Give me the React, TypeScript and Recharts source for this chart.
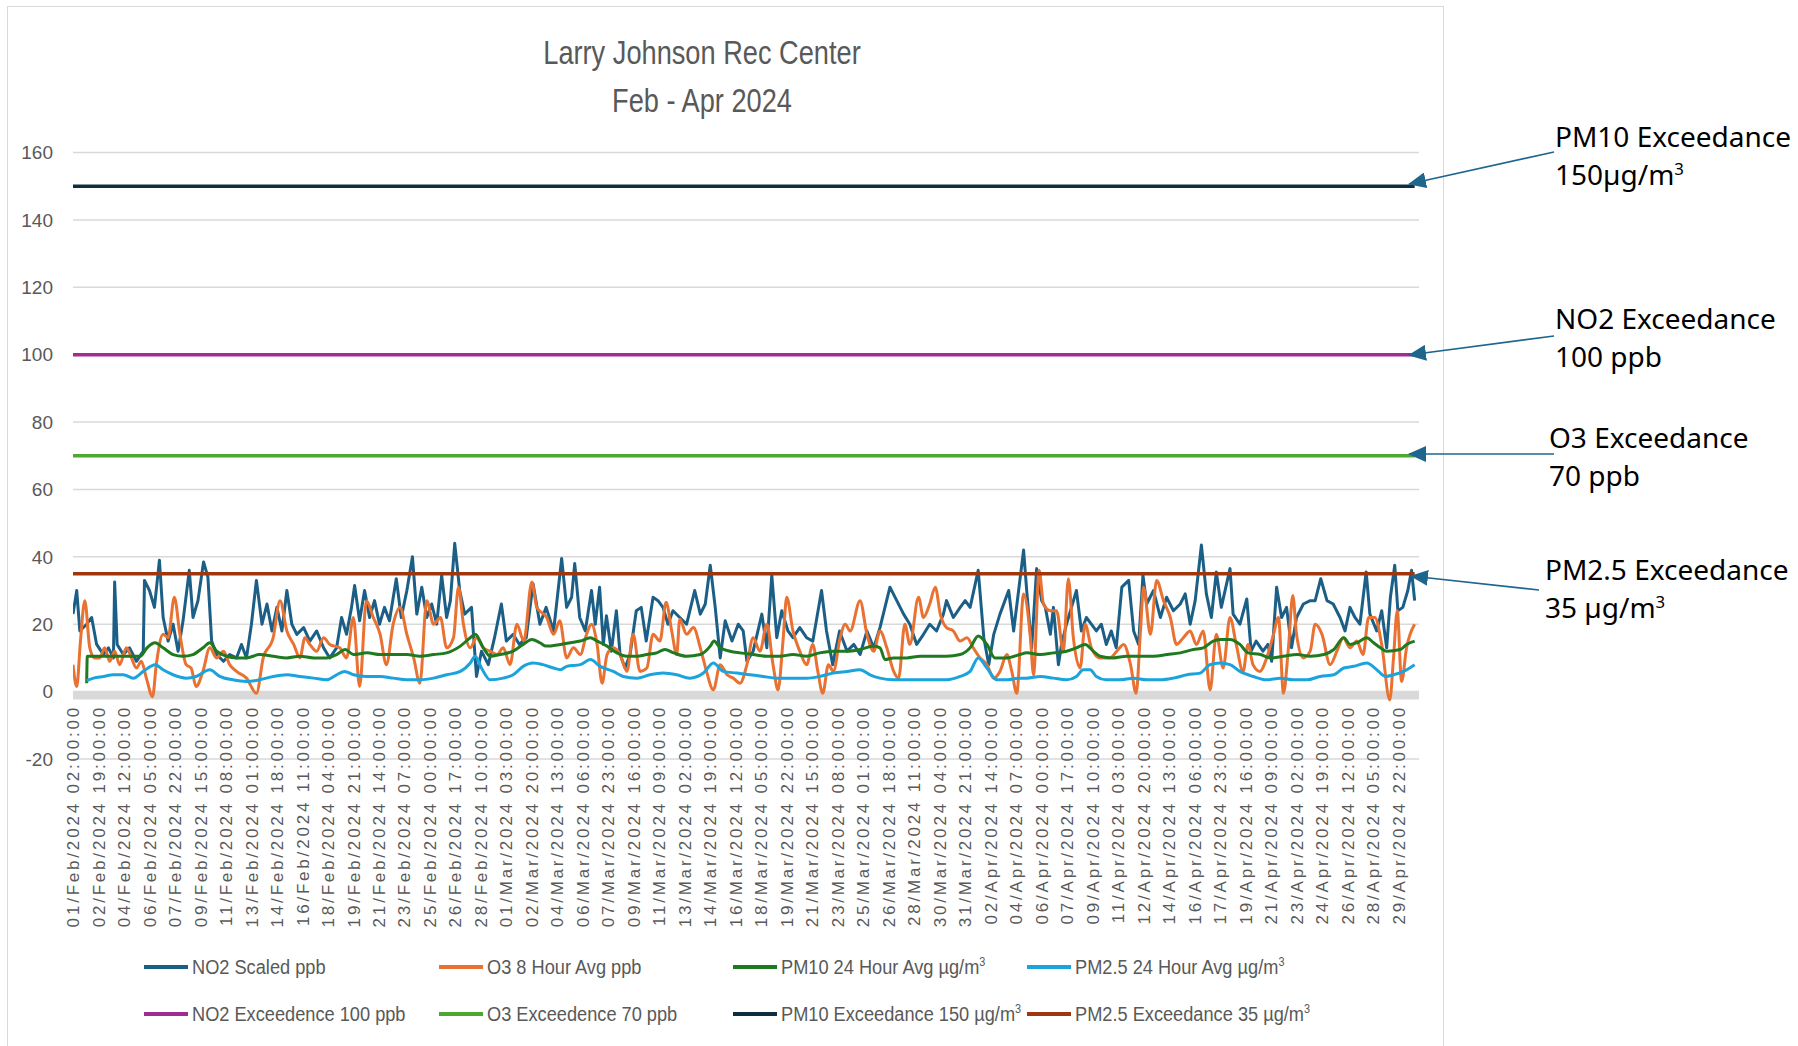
import React from 'react';
import { LineChart, Line, XAxis, YAxis, CartesianGrid, ReferenceLine } from 'recharts';

// hourly readings, Feb 1 02:00 = hour 0
const TICK_LABELS = [
  '01/Feb/2024 02:00:00', '02/Feb/2024 19:00:00', '04/Feb/2024 12:00:00', '06/Feb/2024 05:00:00',
  '07/Feb/2024 22:00:00', '09/Feb/2024 15:00:00', '11/Feb/2024 08:00:00', '13/Feb/2024 01:00:00',
  '14/Feb/2024 18:00:00', '16/Feb/2024 11:00:00', '18/Feb/2024 04:00:00', '19/Feb/2024 21:00:00',
  '21/Feb/2024 14:00:00', '23/Feb/2024 07:00:00', '25/Feb/2024 00:00:00', '26/Feb/2024 17:00:00',
  '28/Feb/2024 10:00:00', '01/Mar/2024 03:00:00', '02/Mar/2024 20:00:00', '04/Mar/2024 13:00:00',
  '06/Mar/2024 06:00:00', '07/Mar/2024 23:00:00', '09/Mar/2024 16:00:00', '11/Mar/2024 09:00:00',
  '13/Mar/2024 02:00:00', '14/Mar/2024 19:00:00', '16/Mar/2024 12:00:00', '18/Mar/2024 05:00:00',
  '19/Mar/2024 22:00:00', '21/Mar/2024 15:00:00', '23/Mar/2024 08:00:00', '25/Mar/2024 01:00:00',
  '26/Mar/2024 18:00:00', '28/Mar/2024 11:00:00', '30/Mar/2024 04:00:00', '31/Mar/2024 21:00:00',
  '02/Apr/2024 14:00:00', '04/Apr/2024 07:00:00', '06/Apr/2024 00:00:00', '07/Apr/2024 17:00:00',
  '09/Apr/2024 10:00:00', '11/Apr/2024 03:00:00', '12/Apr/2024 20:00:00', '14/Apr/2024 13:00:00',
  '16/Apr/2024 06:00:00', '17/Apr/2024 23:00:00', '19/Apr/2024 16:00:00', '21/Apr/2024 09:00:00',
  '23/Apr/2024 02:00:00', '24/Apr/2024 19:00:00', '26/Apr/2024 12:00:00', '28/Apr/2024 05:00:00',
  '29/Apr/2024 22:00:00',
];
const LABEL_STEP = 41;
const LAST_HOUR = 2158;
const Y_TICKS = [-20, 0, 20, 40, 60, 80, 100, 120, 140, 160];

const NO2_LIMIT = 100;
const O3_LIMIT = 70;
const PM10_LIMIT = 150;
const PM25_LIMIT = 35;

// [hour, value]
const NO2_SCALED: [number, number][] = [
  [0, 23], [6, 30], [11, 18], [22, 20], [30, 22], [38, 14], [49, 11], [57, 13], [65, 10], [67, 32.5],
  [71, 14], [81, 11], [91, 13], [102, 9], [113, 12], [115, 33], [123, 30], [131, 25], [139, 39], [145, 22],
  [153, 15], [161, 20], [169, 12], [177, 21], [187, 36], [193, 22], [201, 27], [210, 38.5], [217, 34], [223, 15],
  [231, 11], [242, 9], [252, 11], [263, 10], [271, 14], [279, 10], [287, 20], [295, 33], [304, 20], [312, 26],
  [320, 18], [328, 25], [336, 18], [344, 30], [352, 20], [360, 17], [371, 19], [381, 15], [392, 18], [403, 13],
  [413, 10], [424, 13], [432, 22], [440, 17], [448, 25], [453, 31.5], [461, 21], [469, 30], [477, 22], [485, 27],
  [493, 20], [501, 25], [509, 21], [520, 33.5], [528, 22], [537, 30], [546, 40], [553, 23], [561, 31], [569, 22],
  [577, 26], [585, 20], [593, 34.5], [601, 22], [607, 27], [614, 44], [622, 30], [630, 23], [641, 25], [649, 4.5],
  [657, 12], [668, 8], [678, 16], [689, 26], [697, 15], [708, 17], [718, 14], [729, 16], [740, 32], [751, 20],
  [761, 25], [773, 18], [786, 39.5], [794, 25], [802, 28], [807, 38], [815, 22], [824, 18], [834, 30], [840, 20],
  [847, 31], [853, 14], [858, 22.5], [866, 12], [874, 24], [880, 11], [888, 7], [896, 11], [906, 24], [914, 25],
  [922, 15], [933, 28], [941, 27], [949, 25], [957, 20], [965, 24], [976, 22], [987, 20], [1000, 30], [1009, 23],
  [1017, 26], [1025, 37.5], [1033, 25], [1041, 10], [1049, 21], [1060, 15], [1070, 20], [1078, 18], [1084, 9], [1094, 12],
  [1108, 23], [1116, 13], [1124, 34.5], [1132, 16], [1140, 24], [1150, 18], [1158, 16], [1169, 19], [1180, 16], [1190, 15],
  [1204, 30], [1212, 18], [1222, 8], [1233, 18], [1245, 12], [1256, 14], [1266, 11], [1277, 18], [1288, 13], [1298, 19],
  [1314, 31], [1325, 27], [1336, 23], [1346, 20], [1357, 14], [1368, 17], [1378, 20], [1389, 18], [1400, 23], [1405, 27],
  [1416, 22], [1427, 25], [1435, 27], [1443, 25], [1456, 36], [1465, 16], [1473, 8], [1481, 17], [1491, 23], [1505, 30],
  [1513, 18], [1521, 30], [1529, 42], [1534, 30], [1542, 13], [1550, 36.5], [1558, 27], [1564, 25], [1572, 17], [1577, 25],
  [1585, 8], [1590, 14], [1598, 20], [1606, 25], [1614, 30], [1622, 18], [1630, 22], [1638, 20], [1646, 18], [1654, 20],
  [1662, 14], [1670, 18], [1678, 13], [1687, 31], [1698, 33], [1706, 18], [1714, 14], [1721, 34.5], [1727, 26], [1738, 30],
  [1749, 22], [1759, 28], [1770, 24], [1781, 26], [1789, 29], [1797, 20], [1805, 27], [1815, 43.5], [1823, 29], [1831, 22],
  [1839, 35.5], [1847, 25], [1861, 36.5], [1866, 23], [1877, 20], [1888, 27.5], [1895, 12], [1903, 15], [1914, 12], [1922, 14],
  [1928, 9], [1936, 31], [1944, 22], [1952, 25], [1960, 13], [1968, 22], [1979, 26], [1990, 27], [1998, 27], [2007, 33.5],
  [2017, 27], [2027, 26], [2038, 22], [2046, 18], [2054, 25], [2062, 22], [2070, 20], [2080, 35.5], [2086, 23], [2097, 18],
  [2105, 24], [2113, 13], [2119, 28], [2126, 37.5], [2131, 24], [2139, 25], [2147, 30], [2153, 36], [2158, 27],
];

const O3_8HR: [number, number][] = [
  [0, 8], [6, 1.5], [12, 15], [19, 27], [27, 13], [35, 10], [43, 10], [51, 13], [59, 9], [67, 12],
  [75, 8], [86, 13], [94, 10], [102, 7], [110, 9], [118, 4], [128, -1.5], [134, 8], [145, 17], [153, 16],
  [163, 28], [172, 17], [182, 8], [190, 7], [198, 1.5], [209, 6], [220, 13], [231, 10], [242, 12], [252, 8],
  [263, 6], [279, 4], [295, -0.5], [306, 10], [322, 16], [333, 27], [344, 18], [355, 14], [365, 10], [373, 16],
  [381, 14], [392, 12], [403, 16], [413, 14], [429, 13], [440, 10], [451, 22], [461, 1.5], [472, 27], [483, 22],
  [494, 17], [504, 8], [515, 20], [526, 25], [537, 17], [548, 10], [558, 2.5], [569, 27], [580, 20], [591, 22],
  [601, 13], [612, 16], [620, 31], [628, 20], [639, 13], [649, 16], [660, 13], [671, 12], [682, 11], [692, 13],
  [703, 8], [714, 20], [725, 15], [738, 32.5], [746, 25], [762, 22], [773, 17], [783, 21], [794, 10], [805, 13],
  [816, 11], [826, 17], [834, 20], [843, 14], [851, 2.5], [859, 11], [869, 13], [880, 11], [891, 6], [901, 17],
  [912, 6], [923, 7], [933, 17], [944, 15], [954, 26.5], [963, 18], [971, 11], [976, 21.5], [987, 17], [998, 19],
  [1009, 13], [1019, 6], [1030, 0.5], [1041, 8], [1052, 5], [1062, 4], [1073, 2.5], [1084, 8], [1094, 16], [1105, 12],
  [1116, 20], [1126, 8], [1134, 0.5], [1142, 15], [1148, 28], [1158, 18], [1169, 12], [1180, 8], [1190, 14], [1198, 6],
  [1206, -0.5], [1215, 8], [1223, 6], [1234, 16], [1242, 20], [1250, 18], [1266, 27], [1277, 17], [1288, 12], [1298, 18],
  [1309, 13], [1320, 6], [1328, 4], [1338, 20], [1346, 14], [1360, 28], [1368, 22], [1378, 26], [1387, 31], [1395, 23],
  [1405, 19], [1416, 18], [1427, 15], [1438, 16], [1448, 13], [1459, 10], [1470, 8], [1481, 4], [1491, 6], [1502, 11],
  [1510, 6], [1518, -0.5], [1529, 29], [1540, 16], [1545, 5], [1554, 36], [1561, 26], [1572, 24], [1582, 24], [1593, 12],
  [1601, 33.5], [1609, 16], [1620, 7], [1628, 20], [1638, 13], [1652, 10], [1668, 10], [1679, 12], [1690, 14], [1701, 8],
  [1710, -0.5], [1717, 18], [1722, 31], [1733, 17], [1743, 33], [1754, 27], [1765, 22], [1775, 14], [1786, 16], [1797, 18],
  [1807, 14], [1818, 18], [1829, 0.5], [1839, 17], [1850, 7], [1861, 22], [1871, 14], [1882, 6], [1890, 14], [1898, 8],
  [1909, 6], [1920, 10], [1931, 17], [1939, 22], [1947, -0.5], [1955, 13], [1962, 28.5], [1968, 17], [1979, 10], [1990, 12],
  [1998, 20], [2009, 17], [2022, 8], [2033, 12], [2043, 16], [2054, 13], [2065, 15], [2075, 11], [2084, 22], [2094, 22],
  [2105, 14], [2118, -2.5], [2124, 10], [2130, 24], [2137, 3], [2145, 13], [2158, 20],
];

const PM10_24HR: [number, number][] = [
  [22, 2.5], [23, 10.5], [55, 10.5], [87, 10.5], [108, 10.5], [119, 13], [132, 14.5], [145, 13], [161, 11], [177, 10.5],
  [193, 11], [209, 13], [220, 14.5], [231, 12], [247, 10.5], [263, 10], [279, 10], [300, 11], [322, 10.5], [344, 10],
  [365, 10.5], [387, 10], [408, 10], [424, 11], [438, 12.5], [451, 11], [473, 11.5], [494, 11], [515, 11], [537, 11],
  [558, 10.5], [580, 11], [601, 11.5], [623, 13.5], [639, 16], [647, 17], [660, 13], [671, 10.5], [687, 11], [708, 12],
  [724, 14], [738, 15.5], [751, 14.5], [761, 13.5], [784, 14], [800, 14.5], [816, 15], [832, 16], [843, 15], [859, 13.5],
  [875, 11.5], [891, 10.5], [907, 10.5], [923, 11], [939, 11.5], [952, 12.5], [966, 11.5], [987, 10.5], [1009, 11], [1025, 13.5],
  [1031, 15], [1041, 13], [1057, 12], [1073, 11.5], [1094, 11], [1116, 10.5], [1137, 10.5], [1158, 11], [1180, 10.5], [1201, 11.5],
  [1223, 12], [1245, 12], [1266, 12.5], [1288, 13.5], [1298, 13], [1306, 9.5], [1320, 10], [1341, 10], [1363, 10.5], [1384, 10.5],
  [1405, 10.5], [1427, 11], [1443, 13], [1456, 16.5], [1470, 14], [1483, 10], [1502, 10], [1523, 11], [1534, 11.5], [1556, 11],
  [1577, 11.5], [1598, 12], [1614, 13], [1628, 14], [1641, 12], [1652, 10.5], [1673, 10], [1695, 10.5], [1717, 10.5], [1738, 10.5],
  [1760, 11], [1781, 11.5], [1802, 12.5], [1818, 13], [1834, 15], [1845, 15.5], [1861, 15.5], [1877, 14], [1890, 11.5], [1910, 11],
  [1926, 10], [1947, 10.5], [1969, 11], [1990, 10.5], [2012, 11], [2028, 12.5], [2044, 16], [2054, 14], [2065, 14.5], [2081, 16],
  [2092, 14.5], [2103, 13], [2113, 12], [2135, 12.5], [2145, 14], [2158, 15],
];

const PM25_24HR: [number, number][] = [
  [22, 3.3], [33, 4], [49, 4.5], [65, 5], [81, 5], [97, 4], [113, 6], [132, 8], [145, 6.5], [161, 5],
  [182, 4], [198, 4.5], [220, 6.5], [236, 4.5], [257, 3.5], [279, 3], [300, 3.5], [322, 4.5], [344, 5], [365, 4.5],
  [387, 4], [408, 3.5], [424, 5], [437, 6], [451, 5], [472, 4.5], [494, 4.5], [515, 4], [537, 3.5], [558, 3.5],
  [580, 4], [601, 5], [623, 6], [639, 8.5], [647, 10.5], [657, 7], [671, 3.5], [692, 4], [708, 5], [724, 7.5],
  [740, 8.5], [756, 8], [773, 7], [784, 6.5], [794, 7.5], [816, 8], [832, 9.5], [848, 7.5], [869, 6], [885, 4.5],
  [907, 4], [928, 5], [949, 5.5], [971, 5], [992, 4], [1014, 5.5], [1030, 8.5], [1046, 6], [1068, 5.5], [1089, 5],
  [1110, 4.5], [1132, 4], [1158, 4], [1180, 4], [1201, 4.5], [1223, 5.5], [1245, 6], [1266, 6.5], [1282, 5], [1298, 4],
  [1320, 3.5], [1341, 3.5], [1363, 3.5], [1384, 3.5], [1405, 3.5], [1427, 4.5], [1443, 6], [1456, 10], [1470, 7], [1486, 3.5],
  [1502, 3.5], [1523, 4], [1534, 4], [1556, 4.5], [1577, 4], [1598, 3.5], [1614, 4.5], [1625, 6.5], [1636, 6.5], [1646, 4.5],
  [1662, 3.5], [1684, 3.5], [1706, 4], [1727, 3.5], [1749, 3.5], [1770, 4], [1792, 5], [1813, 5.5], [1829, 8], [1845, 8.5],
  [1861, 8], [1877, 6], [1898, 4.5], [1920, 3.5], [1942, 4], [1963, 3.5], [1985, 3.5], [2006, 4.5], [2028, 5], [2044, 7],
  [2060, 7.5], [2081, 8.5], [2097, 6.5], [2111, 4.5], [2124, 5], [2140, 6], [2158, 8],
];

const toRows = (pts: [number, number][]) => pts.map(([h, v]) => ({ h, v }));
const flat = (v: number) => [{ h: 0, v }, { h: LAST_HOUR, v }];

const ARIAL = "'Liberation Sans', Arial, sans-serif";
const GREY = '#595959';
const ARROW = '#1e668c';

const C = {
  no2: '#1c5f86',
  o3: '#e97132',
  pm10: '#1f7a1f',
  pm25: '#1aa3dc',
  no2Lim: '#a02b93',
  o3Lim: '#4ea72e',
  pm10Lim: '#0e2e40',
  pm25Lim: '#a0360e',
};

const Sup = () => <sup style={{ fontSize: '0.6em', verticalAlign: 'super', lineHeight: 0 }}>3</sup>;

const LEGEND = [
  { name: 'NO2 Scaled ppb', color: C.no2, sup: false },
  { name: 'O3 8 Hour Avg ppb', color: C.o3, sup: false },
  { name: 'PM10 24 Hour Avg µg/m', color: C.pm10, sup: true },
  { name: 'PM2.5 24 Hour Avg µg/m', color: C.pm25, sup: true },
  { name: 'NO2 Exceedence 100 ppb', color: C.no2Lim, sup: false },
  { name: 'O3 Exceedence 70 ppb', color: C.o3Lim, sup: false },
  { name: 'PM10 Exceedance 150 µg/m', color: C.pm10Lim, sup: true },
  { name: 'PM2.5 Exceedance 35 µg/m', color: C.pm25Lim, sup: true },
];
const LEGEND_X = [144, 439, 733, 1027];
const LEGEND_Y = [967, 1014];

const NOTES = [
  { l1: 'PM10 Exceedance', l2: '150µg/m', sup: true, x: 1555, y: 136, tail: [1554, 152], tip: [1409, 184] },
  { l1: 'NO2 Exceedance', l2: '100 ppb', sup: false, x: 1555, y: 318, tail: [1554, 336], tip: [1409, 355] },
  { l1: 'O3 Exceedance', l2: '70 ppb', sup: false, x: 1549, y: 437, tail: [1554, 454], tip: [1409, 454] },
  { l1: 'PM2.5 Exceedance', l2: '35 µg/m', sup: true, x: 1545, y: 569, tail: [1539, 590], tip: [1411, 576] },
];

const XTick = (props: any) => {
  const { x, y, payload } = props;
  const label = TICK_LABELS[Math.round(payload.value / LABEL_STEP)];
  const ty = y - 54;
  return (
    <text
      x={x}
      y={ty}
      dy="0.36em"
      transform={`rotate(-90, ${x}, ${ty})`}
      textAnchor="end"
      fill={GREY}
      fontSize={17}
      fontFamily={ARIAL}
      letterSpacing={2.8}
    >
      {label}
    </text>
  );
};

// condensed look: Liberation Sans squeezed horizontally
const squeeze = (k: number, origin: string): React.CSSProperties => ({
  transform: `scaleX(${k})`,
  transformOrigin: origin,
});

export default function App() {
  const xTicks = TICK_LABELS.map((_, i) => i * LABEL_STEP);
  return (
    <div style={{ position: 'absolute', left: 0, top: 0, width: 1798, height: 1046, overflow: 'hidden', background: '#fff' }}>
      <div style={{ position: 'absolute', left: 7, top: 6, width: 1437, height: 1100, border: '1.5px solid #d9d9d9', boxSizing: 'border-box' }} />

      <div style={{ position: 'absolute', left: 402, width: 600, top: 28, textAlign: 'center', fontFamily: ARIAL, fontSize: 34, lineHeight: '48px', color: GREY, ...squeeze(0.8, '300px 0') }}>
        <div>Larry Johnson Rec Center</div>
        <div>Feb - Apr 2024</div>
      </div>

      <div style={{ position: 'absolute', left: 0, top: 0 }}>
        <LineChart width={1798} height={1046} margin={{ top: 152.5, right: 379, bottom: 286, left: 0 }}>
          <CartesianGrid vertical={false} stroke="#d9d9d9" strokeWidth={1.5} />
          <XAxis
            dataKey="h"
            type="number"
            domain={[0, 2165]}
            ticks={xTicks}
            interval={0}
            height={1}
            axisLine={false}
            tickLine={false}
            tickSize={0}
            tickMargin={0}
            tick={<XTick />}
            allowDataOverflow
          />
          <YAxis
            type="number"
            domain={[-20, 160]}
            ticks={Y_TICKS}
            interval={0}
            width={73}
            axisLine={false}
            tickLine={false}
            tickSize={0}
            tickMargin={20}
            tick={{ fill: GREY, fontSize: 19, fontFamily: ARIAL }}
          />
          <ReferenceLine
            y={0}
            stroke="#d9d9d9"
            strokeWidth={8}
            shape={(p: any) => <line x1={p.x1} y1={p.y1 + 4} x2={p.x2} y2={p.y2 + 4} stroke="#d9d9d9" strokeWidth={8} />}
          />
          <Line data={toRows(NO2_SCALED)} dataKey="v" type="linear" stroke={C.no2} strokeWidth={3} dot={false} isAnimationActive={false} strokeLinejoin="round" />
          <Line data={toRows(O3_8HR)} dataKey="v" type="monotone" stroke={C.o3} strokeWidth={3} dot={false} isAnimationActive={false} strokeLinejoin="round" />
          <Line data={toRows(PM10_24HR)} dataKey="v" type="monotone" stroke={C.pm10} strokeWidth={3} dot={false} isAnimationActive={false} />
          <Line data={toRows(PM25_24HR)} dataKey="v" type="monotone" stroke={C.pm25} strokeWidth={3} dot={false} isAnimationActive={false} />
          <Line data={flat(NO2_LIMIT)} dataKey="v" stroke={C.no2Lim} strokeWidth={3.5} dot={false} isAnimationActive={false} />
          <Line data={flat(O3_LIMIT)} dataKey="v" stroke={C.o3Lim} strokeWidth={3.5} dot={false} isAnimationActive={false} />
          <Line data={flat(PM10_LIMIT)} dataKey="v" stroke={C.pm10Lim} strokeWidth={3.5} dot={false} isAnimationActive={false} />
          <Line data={flat(PM25_LIMIT)} dataKey="v" stroke={C.pm25Lim} strokeWidth={3.5} dot={false} isAnimationActive={false} />
        </LineChart>
      </div>

      {LEGEND.map((it, i) => {
        const x = LEGEND_X[i % 4];
        const y = LEGEND_Y[Math.floor(i / 4)];
        return (
          <div key={it.name} style={{ position: 'absolute', left: x, top: y - 14, height: 28, display: 'flex', alignItems: 'center', fontFamily: ARIAL, fontSize: 20, color: GREY, whiteSpace: 'nowrap' }}>
            <span style={{ display: 'inline-block', width: 44, height: 4, background: it.color, marginRight: 4 }} />
            <span style={{ display: 'inline-block', ...squeeze(0.91, '0 50%') }}>{it.name}{it.sup && <Sup />}</span>
          </div>
        );
      })}

      <svg width={1798} height={1046} style={{ position: 'absolute', left: 0, top: 0, pointerEvents: 'none' }}>
        <defs>
          <marker id="arrowHead" markerUnits="userSpaceOnUse" markerWidth={18} markerHeight={16} refX={17} refY={8} orient="auto">
            <path d="M0,0 L18,8 L0,16 Z" fill={ARROW} />
          </marker>
        </defs>
        {NOTES.map((n) => (
          <line key={n.l1} x1={n.tail[0]} y1={n.tail[1]} x2={n.tip[0]} y2={n.tip[1]} stroke={ARROW} strokeWidth={1.6} markerEnd="url(#arrowHead)" />
        ))}
      </svg>

      {NOTES.map((n) => (
        <div key={n.l1} style={{ position: 'absolute', left: n.x, top: n.y - 19, fontFamily: "'Noto Sans', sans-serif", fontSize: 28, lineHeight: '38px', color: '#000', whiteSpace: 'nowrap' }}>
          <div>{n.l1}</div>
          <div>{n.l2}{n.sup && <Sup />}</div>
        </div>
      ))}
    </div>
  );
}
